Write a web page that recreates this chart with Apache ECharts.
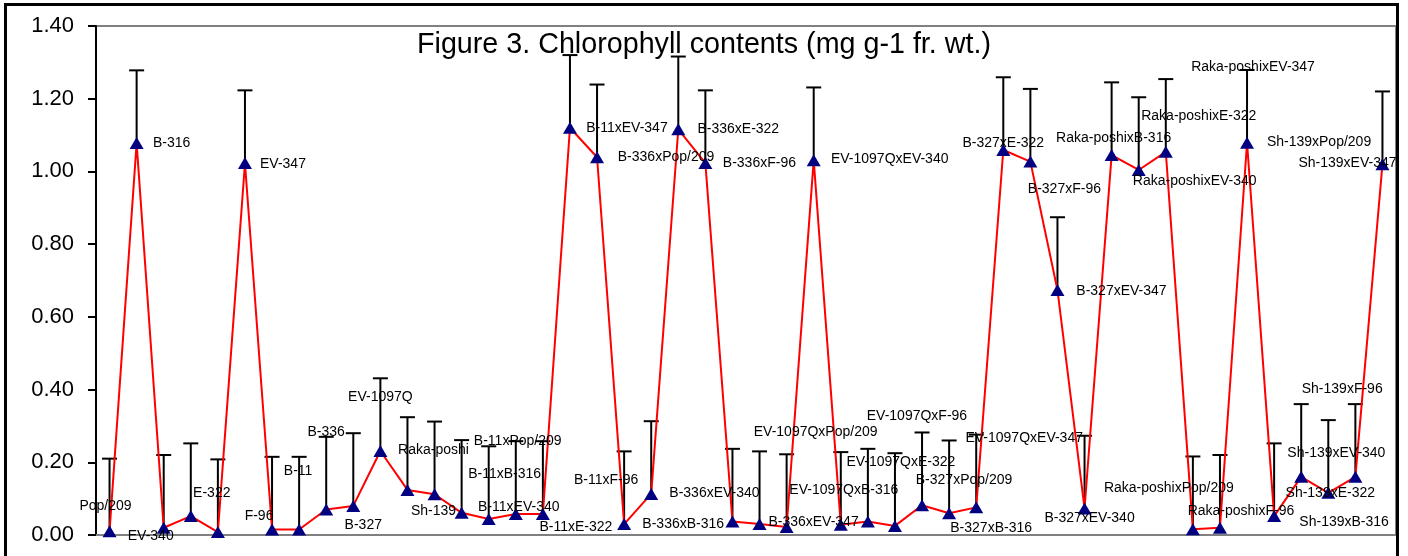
<!DOCTYPE html>
<html>
<head>
<meta charset="utf-8">
<script src="https://cdn.jsdelivr.net/npm/echarts@6/dist/echarts.min.js"></script>
<style>
  html, body { margin: 0; padding: 0; background: #fff; }
  #wrap { position: relative; width: 1408px; height: 556px; overflow: hidden; }
  #chart { position: absolute; left: 0; top: 0; width: 1408px; height: 556px; }
  #frame { position: absolute; left: 4px; top: 3px; width: 1395px; height: 620px; border: 3px solid #000; box-sizing: border-box; pointer-events: none; z-index: 10; }
</style>
</head>
<body>
<div id="wrap"><div id="chart"></div><div id="frame"></div></div>
<script>
// ---- data ----
const titleText = 'Figure 3. Chlorophyll contents (mg g-1 fr. wt.)';

const categories = ['Pop/209','B-316','EV-340','E-322','','EV-347','F-96','B-11','B-336','B-327','EV-1097Q','Raka-poshi','Sh-139',
  'B-11xB-316','B-11xPop/209','B-11xEV-340','B-11xE-322','B-11xEV-347','B-336xPop/209','B-11xF-96','B-336xB-316','B-336xE-322','B-336xF-96','B-336xEV-340','B-336xEV-347',
  'EV-1097QxPop/209','EV-1097QxEV-340','EV-1097QxB-316','EV-1097QxE-322','EV-1097QxF-96','B-327xPop/209','B-327xB-316','EV-1097QxEV-347',
  'B-327xE-322','B-327xF-96','B-327xEV-347','B-327xEV-340',
  'Raka-poshixB-316','Raka-poshixEV-340','Raka-poshixE-322','Raka-poshixPop/209','Raka-poshixF-96',
  'Sh-139xPop/209','Sh-139xB-316','Sh-139xF-96','Sh-139xE-322','Sh-139xEV-340','Sh-139xEV-347'];

const chlorophyll = [0.010,1.078,0.020,0.052,0.008,1.023,0.015,0.015,0.070,0.080,0.231,0.124,0.112,
  0.061,0.044,0.058,0.058,1.120,1.039,0.030,0.113,1.116,1.023,0.037,0.030,
  0.022,1.031,0.028,0.037,0.025,0.082,0.060,0.076,
  1.059,1.027,0.674,0.073,
  1.045,1.004,1.054,0.016,0.020,
  1.079,0.052,0.160,0.116,0.160,1.020];

const errorBar = [0.20,0.20,0.20,0.20,0.20,0.20,0.20,0.20,0.20,0.20,0.20,0.20,0.20,
  0.20,0.20,0.20,0.20,0.20,0.20,0.20,0.20,0.20,0.20,0.20,0.20,
  0.20,0.20,0.20,0.20,0.20,0.20,0.20,0.20,
  0.20,0.20,0.20,0.20,
  0.20,0.20,0.20,0.20,0.20,
  0.20,0.20,0.20,0.20,0.20,0.20];

const extraLabelText = 'Raka-poshixEV-347';
const extraLabelIndex = 42;

const yTicks = { min: 0, max: 1.4, interval: 0.2 };

// ---- label placement (pixel offsets from each marker centre) ----
const labelOffsets = [[-4,-25],[35,0],[-13,8],[21,-23],[0,0],[38,1],[-13,-13],[-1,-58],[0,-77],[10,19],[0,-54],[26,-40],[-1,17],
  [43,-39],[29,-78],[3,-7],[33,13],[57,0],[69,0],[-18,-44],[32,30],[60,0],[54,0],[-18,-28],[54,-2],
  [29,-95],[76,-1],[3,-35],[33,-59],[22,-110],[42,-25],[42,15],[48,-69],
  [0,-7],[34,28],[64,1],[5,10],
  [2,-17],[56,11],[33,-36],[-24,-41],[21,-17],
  [72,-1],[70,6],[41,-88],[2,0],[-19,-24],[-35,-1]];
const extraLabelOffset = [6,-76];

const FONT = '"Liberation Sans", Arial, sans-serif';

const lineData = chlorophyll.map((v, i) => ({
  value: v,
  label: {
    show: categories[i] !== '',
    formatter: categories[i],
    position: 'inside',
    align: 'center',
    verticalAlign: 'middle',
    offset: labelOffsets[i]
  }
}));

const errData = chlorophyll.map((v, i) => [i, v, v + errorBar[i]]);

const chart = echarts.init(document.getElementById('chart'), null, { renderer: 'canvas' });
chart.setOption({
  animation: false,
  backgroundColor: '#fff',
  title: {
    text: titleText,
    left: 'center',
    top: 26,
    textStyle: { fontFamily: FONT, fontSize: 28.7, fontWeight: 'normal', color: '#000' }
  },
  grid: { left: 96, right: 12, top: 26, bottom: 21, show: true, borderColor: '#808080', borderWidth: 2, backgroundColor: 'transparent' },
  xAxis: {
    type: 'category',
    data: categories,
    boundaryGap: true,
    axisLine: { show: true, lineStyle: { color: '#808080', width: 2 } },
    axisTick: { show: false },
    axisLabel: { show: false },
    splitLine: { show: false }
  },
  yAxis: {
    type: 'value',
    min: yTicks.min, max: yTicks.max, interval: yTicks.interval,
    axisLine: { show: true, lineStyle: { color: '#000', width: 2 } },
    axisTick: { show: true, inside: false, length: 8, lineStyle: { color: '#000', width: 2 } },
    axisLabel: { color: '#000', fontFamily: FONT, fontSize: 22, margin: 22, formatter: v => v.toFixed(2) },
    splitLine: { show: false }
  },
  series: [
    {
      type: 'custom',
      z: 1,
      data: errData,
      encode: { x: 0, y: [1, 2] },
      renderItem: function (params, api) {
        const p0 = api.coord([api.value(0), api.value(1)]);
        const p1 = api.coord([api.value(0), api.value(2)]);
        const half = 7.5;
        return {
          type: 'group',
          children: [
            { type: 'line', shape: { x1: p0[0], y1: p0[1], x2: p1[0], y2: p1[1] }, style: { stroke: '#000', lineWidth: 2 } },
            { type: 'line', shape: { x1: p1[0] - half, y1: p1[1], x2: p1[0] + half, y2: p1[1] }, style: { stroke: '#000', lineWidth: 2 } }
          ]
        };
      }
    },
    {
      type: 'line',
      z: 2,
      data: lineData,
      symbol: 'triangle',
      symbolSize: [14, 12],
      showAllSymbol: true,
      clip: false,
      lineStyle: { color: '#ff0000', width: 2 },
      itemStyle: { color: '#000080' },
      label: { color: '#000', fontFamily: FONT, fontSize: 14 },
      markPoint: {
        symbol: 'circle',
        symbolSize: 0,
        data: [{
          coord: [categories[extraLabelIndex], chlorophyll[extraLabelIndex]],
          label: {
            show: true, formatter: extraLabelText, position: 'inside', align: 'center', verticalAlign: 'middle',
            offset: extraLabelOffset, color: '#000', fontFamily: FONT, fontSize: 14
          }
        }]
      }
    }
  ]
});
</script>
</body>
</html>
